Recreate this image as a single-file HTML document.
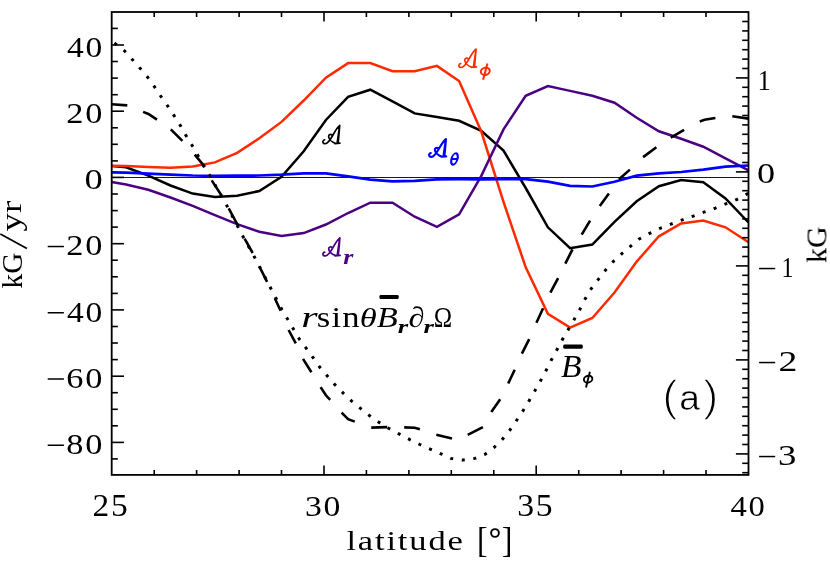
<!DOCTYPE html>
<html><head><meta charset="utf-8"><title>plot</title>
<style>
html,body{margin:0;padding:0;background:#fff;}
body{width:830px;height:581px;overflow:hidden;}
svg{display:block;will-change:transform;}

</style></head><body>
<svg width="830" height="581" viewBox="0 0 830 581">
<rect width="830" height="581" fill="#fff"/>
<path d="M111.7 177.5H748.5" stroke="#000" stroke-width="0.9"/>
<g fill="none" stroke-linejoin="miter" stroke-linecap="butt">
<polyline points="111.7,165.9 126.1,167.3 148.3,175.7 170.5,185.5 192.7,193.6 214.9,197.1 237.1,195.7 259.3,191.0 281.5,176.8 303.7,151.2 325.9,120.0 348.1,96.9 370.3,89.7 392.5,101.3 414.7,113.4 436.9,117.0 459.1,120.8 481.3,130.8 503.5,150.6 525.7,188.0 547.9,227.3 570.1,248.2 592.3,244.6 614.5,221.8 636.7,201.3 658.9,186.2 681.1,180.0 703.3,182.2 725.5,198.5 748.5,222.5" stroke="#000" stroke-width="2.5"/>
<polyline points="111.7,165.7 126.1,165.9 148.3,167.0 170.5,167.8 192.7,166.6 214.9,162.4 237.1,152.8 259.3,138.3 281.5,121.9 303.7,100.5 325.9,77.6 348.1,63.1 370.3,63.1 392.5,71.2 414.7,71.2 436.9,65.9 459.1,81.0 481.3,131.5 503.5,201.9 525.7,267.3 547.9,313.9 570.1,327.6 592.3,318.0 614.5,292.5 636.7,261.6 658.9,236.3 681.1,223.5 703.3,220.6 725.5,227.3 748.5,242.3" stroke="#ff2a00" stroke-width="2.5"/>
<polyline points="111.7,182.1 126.1,184.5 148.3,189.8 170.5,197.5 192.7,205.8 214.9,215.2 237.1,224.1 259.3,231.8 281.5,236.0 303.7,233.1 325.9,224.5 348.1,213.0 370.3,202.7 392.5,202.7 414.7,216.7 436.9,226.8 459.1,214.4 481.3,175.9 503.5,129.4 525.7,95.8 547.9,86.1 570.1,90.9 592.3,95.7 614.5,102.7 636.7,117.8 658.9,131.3 681.1,138.8 703.3,146.7 725.5,158.3 748.5,170.4" stroke="#4b0082" stroke-width="2.5"/>
<polyline points="111.7,172.4 126.1,172.7 148.3,173.6 170.5,174.6 192.7,175.5 214.9,175.9 237.1,175.7 259.3,175.5 281.5,174.7 303.7,173.4 325.9,173.4 348.1,176.3 370.3,179.7 392.5,181.3 414.7,180.9 436.9,179.3 459.1,179.2 481.3,179.3 503.5,179.2 525.7,179.2 547.9,181.7 570.1,185.9 592.3,186.5 614.5,181.7 636.7,175.7 658.9,173.3 681.1,172.0 703.3,169.6 725.5,166.7 748.5,165.5" stroke="#0000ff" stroke-width="2.7"/>
<polyline points="111.7,41.0 115.8,44.1 124.5,50.8 132.7,59.9 140.3,68.6 147.6,77.2 154.7,87.1 161.1,96.7 167.8,106.2 174.2,115.8 180.4,125.6 185.7,135.1 192.0,145.3 197.8,155.3 203.6,165.9 209.8,175.5 226.7,205.4 243.0,236.6 254.6,257.3 271.0,288.7 282.1,309.9 299.4,339.2 306.1,348.1 313.1,357.7 319.9,367.3 327.1,375.8 335.1,384.9 343.5,393.4 351.7,401.1 360.4,408.3 369.3,415.5 378.9,422.3 388.6,428.3 399.4,434.1 409.8,439.6 419.9,444.5 430.7,449.3 441.6,454.1 450.8,458.4 462.9,460.1 474.9,458.4 485.3,454.1 494.2,447.3 502.7,438.9 509.9,430.0 516.6,420.4 523.1,410.7 529.2,400.6 535.2,390.2 540.7,380.6 546.0,370.5 551.3,360.1 556.9,349.8 562.4,339.6 578.6,311.9 584.6,299.9 591.3,288.6 598.3,279.4 605.8,269.8 613.5,261.3 621.9,253.6 630.4,246.4 638.8,239.2 649.6,233.4 660.0,228.3 670.8,224.2 681.7,220.1 692.5,216.3 703.9,212.2 715.4,208.1 726.3,203.7 737.1,199.4 748.5,193.2" stroke="#000" stroke-width="3.0" stroke-dasharray="3.0 8.63" stroke-dashoffset="-3.4"/>
<path d="M111.7 104.2L127.3 105.4 M143.1 111.9L148.4 114.0L157.0 119.7 M170.8 129.3L182.4 140.8 M194.7 154.7L204.9 166.9 M211.7 180.4L221.7 195.8 M228.7 208.3L238.2 226.0 M244.6 238.6L252.7 253.0 M259.4 266.5L267.1 281.9 M274.8 298.3L280.6 310.8 M288.6 330.0L295.8 343.3 M303.0 358.9L311.4 372.2 M320.6 387.1L325.9 395.3L330.2 399.9 M341.6 412.7L348.1 419.2L354.8 421.6 M371.2 427.6L387.3 427.1 M404.2 427.4L414.7 427.8L419.9 429.3 M436.3 434.8L452.0 438.4 M467.7 434.8L482.9 427.1 M491.3 411.9L500.2 399.2 M508.2 383.5L514.7 369.8 M521.9 353.6L529.2 339.2 M536.4 322.8L543.1 308.3 M550.4 292.7L558.1 278.2 M565.3 263.7L572.5 249.3 M581.7 234.6L590.1 220.6 M599.8 206.1L608.9 193.4 M619.0 179.3L629.9 169.6 M643.1 157.1L656.4 147.2 M670.8 137.6L684.1 129.9 M699.8 121.4L704.5 119.8L715.4 118.0 M732.3 116.3L748.5 118.6" stroke="#000" stroke-width="2.6"/>
</g>
<g stroke="#000" stroke-width="1.8" fill="none" stroke-linecap="butt">
<rect x="111.7" y="12.0" width="636.8" height="462.9"/>
<path stroke-width="1.6" d="M154.2 474.9v-5.0M154.2 12.0v5.0"/>
<path stroke-width="1.6" d="M196.6 474.9v-5.0M196.6 12.0v5.0"/>
<path stroke-width="1.6" d="M239.1 474.9v-5.0M239.1 12.0v5.0"/>
<path stroke-width="1.6" d="M281.5 474.9v-5.0M281.5 12.0v5.0"/>
<path stroke-width="1.6" d="M324.0 474.9v-9.4M324.0 12.0v9.4"/>
<path stroke-width="1.6" d="M366.4 474.9v-5.0M366.4 12.0v5.0"/>
<path stroke-width="1.6" d="M408.9 474.9v-5.0M408.9 12.0v5.0"/>
<path stroke-width="1.6" d="M451.3 474.9v-5.0M451.3 12.0v5.0"/>
<path stroke-width="1.6" d="M493.8 474.9v-5.0M493.8 12.0v5.0"/>
<path stroke-width="1.6" d="M536.2 474.9v-9.4M536.2 12.0v9.4"/>
<path stroke-width="1.6" d="M578.7 474.9v-5.0M578.7 12.0v5.0"/>
<path stroke-width="1.6" d="M621.1 474.9v-5.0M621.1 12.0v5.0"/>
<path stroke-width="1.6" d="M663.6 474.9v-5.0M663.6 12.0v5.0"/>
<path stroke-width="1.6" d="M706.0 474.9v-5.0M706.0 12.0v5.0"/>
<path stroke-width="1.6" d="M111.7 458.9h6.2"/>
<path stroke-width="1.6" d="M111.7 442.4h12.3"/>
<path stroke-width="1.6" d="M111.7 425.8h6.2"/>
<path stroke-width="1.6" d="M111.7 409.3h6.2"/>
<path stroke-width="1.6" d="M111.7 392.7h6.2"/>
<path stroke-width="1.6" d="M111.7 376.2h12.3"/>
<path stroke-width="1.6" d="M111.7 359.6h6.2"/>
<path stroke-width="1.6" d="M111.7 343.0h6.2"/>
<path stroke-width="1.6" d="M111.7 326.5h6.2"/>
<path stroke-width="1.6" d="M111.7 309.9h12.3"/>
<path stroke-width="1.6" d="M111.7 293.4h6.2"/>
<path stroke-width="1.6" d="M111.7 276.8h6.2"/>
<path stroke-width="1.6" d="M111.7 260.2h6.2"/>
<path stroke-width="1.6" d="M111.7 243.7h12.3"/>
<path stroke-width="1.6" d="M111.7 227.1h6.2"/>
<path stroke-width="1.6" d="M111.7 210.6h6.2"/>
<path stroke-width="1.6" d="M111.7 194.0h6.2"/>
<path stroke-width="1.6" d="M111.7 177.4h12.3"/>
<path stroke-width="1.6" d="M111.7 160.9h6.2"/>
<path stroke-width="1.6" d="M111.7 144.3h6.2"/>
<path stroke-width="1.6" d="M111.7 127.8h6.2"/>
<path stroke-width="1.6" d="M111.7 111.2h12.3"/>
<path stroke-width="1.6" d="M111.7 94.7h6.2"/>
<path stroke-width="1.6" d="M111.7 78.1h6.2"/>
<path stroke-width="1.6" d="M111.7 61.5h6.2"/>
<path stroke-width="1.6" d="M111.7 45.0h12.3"/>
<path stroke-width="1.6" d="M111.7 28.4h6.2"/>
<path stroke-width="1.6" d="M748.5 472.7h-6.3"/>
<path stroke-width="1.6" d="M748.5 463.3h-6.3"/>
<path stroke-width="1.6" d="M748.5 453.9h-12.6"/>
<path stroke-width="1.6" d="M748.5 444.5h-6.3"/>
<path stroke-width="1.6" d="M748.5 435.1h-6.3"/>
<path stroke-width="1.6" d="M748.5 425.7h-6.3"/>
<path stroke-width="1.6" d="M748.5 416.3h-6.3"/>
<path stroke-width="1.6" d="M748.5 406.9h-6.3"/>
<path stroke-width="1.6" d="M748.5 397.5h-6.3"/>
<path stroke-width="1.6" d="M748.5 388.1h-6.3"/>
<path stroke-width="1.6" d="M748.5 378.7h-6.3"/>
<path stroke-width="1.6" d="M748.5 369.3h-6.3"/>
<path stroke-width="1.6" d="M748.5 359.9h-12.6"/>
<path stroke-width="1.6" d="M748.5 350.5h-6.3"/>
<path stroke-width="1.6" d="M748.5 341.1h-6.3"/>
<path stroke-width="1.6" d="M748.5 331.7h-6.3"/>
<path stroke-width="1.6" d="M748.5 322.3h-6.3"/>
<path stroke-width="1.6" d="M748.5 312.9h-6.3"/>
<path stroke-width="1.6" d="M748.5 303.5h-6.3"/>
<path stroke-width="1.6" d="M748.5 294.1h-6.3"/>
<path stroke-width="1.6" d="M748.5 284.7h-6.3"/>
<path stroke-width="1.6" d="M748.5 275.3h-6.3"/>
<path stroke-width="1.6" d="M748.5 265.9h-12.6"/>
<path stroke-width="1.6" d="M748.5 256.5h-6.3"/>
<path stroke-width="1.6" d="M748.5 247.1h-6.3"/>
<path stroke-width="1.6" d="M748.5 237.7h-6.3"/>
<path stroke-width="1.6" d="M748.5 228.3h-6.3"/>
<path stroke-width="1.6" d="M748.5 218.9h-6.3"/>
<path stroke-width="1.6" d="M748.5 209.5h-6.3"/>
<path stroke-width="1.6" d="M748.5 200.1h-6.3"/>
<path stroke-width="1.6" d="M748.5 190.7h-6.3"/>
<path stroke-width="1.6" d="M748.5 181.3h-6.3"/>
<path stroke-width="1.6" d="M748.5 171.9h-12.6"/>
<path stroke-width="1.6" d="M748.5 162.5h-6.3"/>
<path stroke-width="1.6" d="M748.5 153.1h-6.3"/>
<path stroke-width="1.6" d="M748.5 143.7h-6.3"/>
<path stroke-width="1.6" d="M748.5 134.3h-6.3"/>
<path stroke-width="1.6" d="M748.5 124.9h-6.3"/>
<path stroke-width="1.6" d="M748.5 115.5h-6.3"/>
<path stroke-width="1.6" d="M748.5 106.1h-6.3"/>
<path stroke-width="1.6" d="M748.5 96.7h-6.3"/>
<path stroke-width="1.6" d="M748.5 87.3h-6.3"/>
<path stroke-width="1.6" d="M748.5 77.9h-12.6"/>
<path stroke-width="1.6" d="M748.5 68.5h-6.3"/>
<path stroke-width="1.6" d="M748.5 59.1h-6.3"/>
<path stroke-width="1.6" d="M748.5 49.7h-6.3"/>
<path stroke-width="1.6" d="M748.5 40.3h-6.3"/>
<path stroke-width="1.6" d="M748.5 30.9h-6.3"/>
<path stroke-width="1.6" d="M748.5 21.5h-6.3"/>
</g>
<g font-family="Liberation Serif" font-size="30" fill="#000" style="opacity:0.999;font-family:'Liberation Serif',serif">
<text transform="translate(67.04,56.58) scale(1.1167,0.9975)" letter-spacing="1.6">40</text>
<text transform="translate(66.17,122.82) scale(1.1453,0.9975)" letter-spacing="1.6">20</text>
<text transform="translate(84.38,189.05) scale(1.2160,0.9975)" letter-spacing="1.6">0</text>
<text transform="translate(66.17,255.28) scale(1.1453,0.9975)" letter-spacing="1.6">20</text>
<text transform="translate(67.04,321.52) scale(1.1167,0.9975)" letter-spacing="1.6">40</text>
<text transform="translate(66.17,387.75) scale(1.1453,0.9975)" letter-spacing="1.6">60</text>
<text transform="translate(66.17,453.99) scale(1.1453,0.9975)" letter-spacing="1.6">80</text>
<text transform="translate(92.61,515.75) scale(1.1145,1.0200)" letter-spacing="1.6">25</text>
<text transform="translate(304.96,515.75) scale(1.1241,1.0074)" letter-spacing="1.6">30</text>
<text transform="translate(517.21,515.75) scale(1.1241,1.0200)" letter-spacing="1.6">35</text>
<text transform="translate(730.56,515.75) scale(1.0867,1.0074)" letter-spacing="1.6">40</text>
<text transform="translate(757.56,89.60) scale(0.8857,0.9873)" >1</text>
<text transform="translate(756.99,183.35) scale(1.2080,0.9926)" >0</text>
<text transform="translate(781.40,277.40) scale(0.8000,0.9924)" >1</text>
<text transform="translate(778.43,371.10) scale(1.2583,0.9975)" >2</text>
<text transform="translate(778.06,464.95) scale(1.2245,0.9850)" >3</text>
<text transform="translate(346.42,549.87) scale(1.1509,0.9286)" letter-spacing="1.6">latitude</text>
<text transform="translate(476.90,551.84) scale(1.0667,1.2162)" >[</text>
<text transform="translate(501.83,551.84) scale(1.0667,1.2162)" >]</text>
<text transform="translate(21.55,288.39) rotate(-90) scale(0.9759,0.9952)" >kG</text>
<text transform="translate(21.13,231.41) rotate(-90) scale(1.2286,0.9805)" >yr</text>
<text transform="translate(826.35,263.00) rotate(-90) scale(1.0014,0.9905)" >kG</text>
<text transform="translate(662.20,410.55) scale(1.5538,1.4704)" font-family="Liberation Sans" stroke="#fff" stroke-width="0.9">(</text>
<text transform="translate(679.14,410.20) scale(1.2400,1.1625)" font-family="Liberation Sans" stroke="#fff" stroke-width="0.45">a</text>
<text transform="translate(703.08,410.55) scale(1.5385,1.4704)" font-family="Liberation Sans" stroke="#fff" stroke-width="0.9">)</text>
<text transform="translate(301.35,326.80) scale(1.4000,1.0071)" font-style="italic">r</text>
<text transform="translate(316.86,326.86) scale(1.1546,0.9750)" letter-spacing="1">sin</text>
<text transform="translate(359.67,327.06) scale(1.1520,0.9459)" font-style="italic">θ</text>
<text transform="translate(376.71,326.80) scale(1.1486,1.0051)" font-style="italic">B</text>
<text transform="translate(397.73,333.30) scale(0.8909,0.6214)" font-style="italic" font-weight="bold">r</text>
<text transform="translate(408.52,326.86) scale(1.0800,0.9655)" font-style="italic">∂</text>
<text transform="translate(423.53,333.30) scale(0.8909,0.6214)" font-style="italic" font-weight="bold">r</text>
<text transform="translate(433.66,326.80) scale(0.8260,0.9924)" >Ω</text>
<text transform="translate(561.12,377.10) scale(1.1200,1.0205)" font-style="italic">B</text>
<text transform="translate(343.15,264.30) scale(0.8636,0.6643)" font-style="italic" font-weight="bold" fill="#4b0082">r</text>
</g>
<path transform="translate(322.09,124.97) scale(0.9457,0.9683)" d="M2.7 15.3C1.3 15.6 0.5 17 1 18.2C1.6 19.6 3.8 19.7 5.4 18.5C7.8 16.7 10.2 12.8 12.4 8.8C14.6 4.9 16.8 1.9 18.5 0.6M18.6 0.5C18.2 6 17.6 13 16.9 19M18.6 0.5C17.8 6 16.7 13 15.9 18.7M13.6 19.2L18.9 18.8M10.6 10.6C9.2 9.2 6.8 9.8 6.9 11.9C7.1 14.6 10.2 17.8 14.6 19.1" fill="none" stroke="#000" stroke-width="1.70" stroke-linecap="round" stroke-linejoin="round" vector-effect="non-scaling-stroke"/>
<path transform="translate(458.07,48.56) scale(0.9674,0.9788)" d="M2.7 15.3C1.3 15.6 0.5 17 1 18.2C1.6 19.6 3.8 19.7 5.4 18.5C7.8 16.7 10.2 12.8 12.4 8.8C14.6 4.9 16.8 1.9 18.5 0.6M18.6 0.5C18.2 6 17.6 13 16.9 19M18.6 0.5C17.8 6 16.7 13 15.9 18.7M13.6 19.2L18.9 18.8M10.6 10.6C9.2 9.2 6.8 9.8 6.9 11.9C7.1 14.6 10.2 17.8 14.6 19.1" fill="none" stroke="#ff2a00" stroke-width="1.70" stroke-linecap="round" stroke-linejoin="round" vector-effect="non-scaling-stroke"/>
<path transform="translate(428.28,138.47) scale(0.9511,0.9524)" d="M2.7 15.3C1.3 15.6 0.5 17 1 18.2C1.6 19.6 3.8 19.7 5.4 18.5C7.8 16.7 10.2 12.8 12.4 8.8C14.6 4.9 16.8 1.9 18.5 0.6M18.6 0.5C18.2 6 17.6 13 16.9 19M18.6 0.5C17.8 6 16.7 13 15.9 18.7M13.6 19.2L18.9 18.8M10.6 10.6C9.2 9.2 6.8 9.8 6.9 11.9C7.1 14.6 10.2 17.8 14.6 19.1" fill="none" stroke="#0000ff" stroke-width="2.10" stroke-linecap="round" stroke-linejoin="round" vector-effect="non-scaling-stroke"/>
<path transform="translate(322.13,237.52) scale(0.9511,0.9524)" d="M2.7 15.3C1.3 15.6 0.5 17 1 18.2C1.6 19.6 3.8 19.7 5.4 18.5C7.8 16.7 10.2 12.8 12.4 8.8C14.6 4.9 16.8 1.9 18.5 0.6M18.6 0.5C18.2 6 17.6 13 16.9 19M18.6 0.5C17.8 6 16.7 13 15.9 18.7M13.6 19.2L18.9 18.8M10.6 10.6C9.2 9.2 6.8 9.8 6.9 11.9C7.1 14.6 10.2 17.8 14.6 19.1" fill="none" stroke="#4b0082" stroke-width="1.80" stroke-linecap="round" stroke-linejoin="round" vector-effect="non-scaling-stroke"/>
<rect x="379.5" y="295.1" width="19.2" height="3.9" rx="1.2" fill="#000"/>
<rect x="563.2" y="344.6" width="19.6" height="4.1" rx="1.4" fill="#000"/>
<path d="M26.9 248.6L0.4 233.9" stroke="#000" stroke-width="1.7" fill="none"/>
<circle cx="495" cy="533" r="3.9" stroke="#000" stroke-width="1.9" fill="none"/>
<g fill="none" stroke="#ff2a00" stroke-width="2.00" stroke-linecap="butt"><ellipse cx="485.30" cy="71.30" rx="4.55" ry="3.55" transform="rotate(-18 485.30 71.30)"/><path d="M487.40 63.50L483.10 79.80"/></g>
<g fill="none" stroke="#000" stroke-width="1.90" stroke-linecap="butt"><ellipse cx="588.10" cy="379.20" rx="4.30" ry="3.35" transform="rotate(-18 588.10 379.20)"/><path d="M589.90 371.80L586.00 387.60"/></g>
<g fill="none" stroke="#0000ff" stroke-width="2.1" transform="translate(454.45,158.95) skewX(-14)"><ellipse cx="0" cy="0" rx="3.0" ry="5.7"/><path d="M-3 0H3"/></g>
<path d="M47.7 246.53H63.9" stroke="#000" stroke-width="1.5"/>
<path d="M47.7 312.77H63.9" stroke="#000" stroke-width="1.5"/>
<path d="M47.7 379.00H63.9" stroke="#000" stroke-width="1.5"/>
<path d="M47.7 445.24H63.9" stroke="#000" stroke-width="1.5"/>
<path d="M759.1 268.55H775.2" stroke="#000" stroke-width="1.5"/>
<path d="M759.1 362.55H775.2" stroke="#000" stroke-width="1.5"/>
<path d="M759.1 456.55H775.2" stroke="#000" stroke-width="1.5"/>
</svg>
</body></html>
